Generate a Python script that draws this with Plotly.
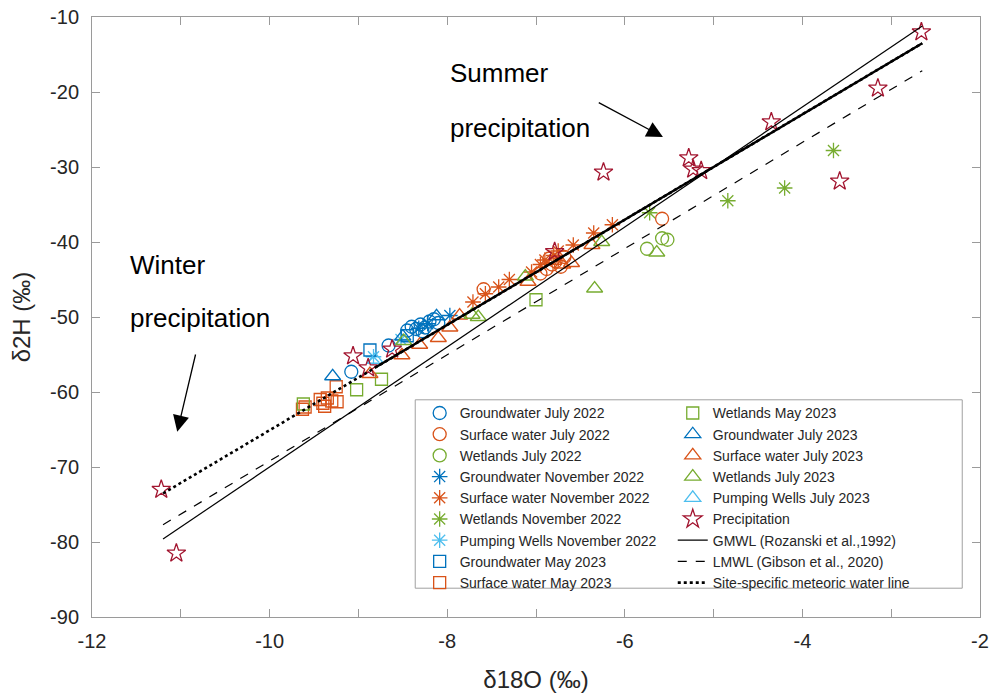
import plotly.graph_objects as go

# ---------------- data ----------------
gw_jul22_x = [-9.08, -8.66, -8.45, -8.40, -8.35, -8.30, -8.25, -8.20, -8.15, -8.10, -8.28]
gw_jul22_y = [-57.3, -53.8, -51.8, -51.3, -51.6, -51.0, -51.4, -50.6, -50.3, -50.8, -51.9]

sw_jul22_x = [-7.59, -6.95, -6.88, -6.82, -6.78, -6.72, -6.85, -6.68, -5.58]
sw_jul22_y = [-46.3, -44.2, -43.6, -43.0, -42.6, -43.3, -42.2, -42.0, -36.9]

wl_jul22_x = [-5.75, -5.58, -5.52]
wl_jul22_y = [-40.9, -39.5, -39.7]

gw_nov22_x = [-7.97, -8.32, -8.22]
gw_nov22_y = [-49.8, -51.5, -50.9]

sw_nov22_x = [-7.71, -7.57, -7.42, -7.30, -7.05, -6.95, -6.90, -6.80, -6.75, -6.58, -6.35, -6.14]
sw_nov22_y = [-48.0, -46.9, -46.0, -45.0, -44.0, -43.0, -42.4, -41.8, -41.2, -40.4, -38.8, -37.7]

wl_nov22_x = [-5.72, -4.84, -4.20, -3.65]
wl_nov22_y = [-36.1, -34.5, -32.8, -27.8]

pw_nov22_x = [-8.83, -8.52]
pw_nov22_y = [-55.3, -53.0]

gw_may23_x = [-8.87, -8.45]
gw_may23_y = [-54.4, -52.5]

sw_may23_x = [-9.63, -9.60, -9.43, -9.40, -9.38, -9.35, -9.30, -9.25, -9.24]
sw_may23_y = [-62.3, -62.0, -61.0, -61.5, -61.9, -60.8, -61.2, -59.3, -61.3]

wl_may23_x = [-9.62, -9.02, -8.74, -7.00]
wl_may23_y = [-61.6, -59.7, -58.3, -47.7]

gw_jul23_x = [-9.29, -8.50, -8.12]
gw_jul23_y = [-57.9, -52.6, -49.9]

sw_jul23_x = [-8.87, -8.51, -8.31, -8.10, -7.97, -7.86, -7.09, -6.80, -6.70, -6.60, -6.37]
sw_jul23_y = [-57.6, -55.1, -53.7, -52.8, -51.4, -49.8, -45.3, -42.5, -43.0, -42.8, -40.4]

wl_jul23_x = [-8.49, -7.72, -7.65, -7.12, -6.34, -6.26, -5.64]
wl_jul23_y = [-53.2, -49.7, -50.0, -44.6, -46.2, -40.0, -41.4]

pw_jul23_x = [-8.81]
pw_jul23_y = [-55.7]

prec_x = [-11.22, -11.05, -9.06, -8.89, -8.62, -6.79, -6.24, -5.28, -5.23, -5.14, -4.35, -3.58, -3.15, -2.66]
prec_y = [-73.0, -81.5, -55.2, -56.8, -54.3, -41.3, -30.7, -28.8, -30.3, -30.5, -24.0, -31.9, -19.5, -12.0]

line_x = [-11.2, -2.65]
regr_x = [-8.8, -2.65]
gmwl_coef = [8.0, 10.0]      # slope, intercept
lmwl_coef = [7.08, 1.6]
ssmwl_coef = [7.02, 5.1]

x_tickvals = [-12, -10, -8, -6, -4, -2]
x_ticktext = ["-12", "-10", "-8", "-6", "-4", "-2"]
y_tickvals = [-90, -80, -70, -60, -50, -40, -30, -20, -10]
y_ticktext = ["-90", "-80", "-70", "-60", "-50", "-40", "-30", "-20", "-10"]

# ---------------- styling ----------------
BLUE = "#0072BD"
ORANGE = "#D95319"
GREEN = "#77AC30"
LBLUE = "#4DBEEE"
RED = "#A2142F"

fig = go.Figure()

def add_pts(x, y, name, color, symbol, size, legend):
    fig.add_trace(go.Scatter(
        x=x, y=y, mode="markers", name=name, legend=legend,
        marker=dict(symbol=symbol, size=size, color=color,
                    line=dict(color=color, width=1.3)),
    ))

add_pts(gw_jul22_x, gw_jul22_y, "Groundwater July 2022", BLUE, "circle-open", 13, "legend")
add_pts(sw_jul22_x, sw_jul22_y, "Surface water July 2022", ORANGE, "circle-open", 13, "legend")
add_pts(wl_jul22_x, wl_jul22_y, "Wetlands July 2022", GREEN, "circle-open", 13, "legend")
add_pts(gw_nov22_x, gw_nov22_y, "Groundwater November 2022", BLUE, "asterisk-open", 13, "legend")
add_pts(sw_nov22_x, sw_nov22_y, "Surface water November 2022", ORANGE, "asterisk-open", 13, "legend")
add_pts(wl_nov22_x, wl_nov22_y, "Wetlands November 2022", GREEN, "asterisk-open", 13, "legend")
add_pts(pw_nov22_x, pw_nov22_y, "Pumping Wells November 2022", LBLUE, "asterisk-open", 13, "legend")
add_pts(gw_may23_x, gw_may23_y, "Groundwater May 2023", BLUE, "square-open", 12, "legend")
add_pts(sw_may23_x, sw_may23_y, "Surface water May 2023", ORANGE, "square-open", 12, "legend")

add_pts(wl_may23_x, wl_may23_y, "Wetlands May 2023", GREEN, "square-open", 12, "legend2")
add_pts(gw_jul23_x, gw_jul23_y, "Groundwater July 2023", BLUE, "triangle-up-open", 14, "legend2")
add_pts(sw_jul23_x, sw_jul23_y, "Surface water July 2023", ORANGE, "triangle-up-open", 14, "legend2")
add_pts(wl_jul23_x, wl_jul23_y, "Wetlands July 2023", GREEN, "triangle-up-open", 14, "legend2")
add_pts(pw_jul23_x, pw_jul23_y, "Pumping Wells July 2023", LBLUE, "triangle-up-open", 14, "legend2")
add_pts(prec_x, prec_y, "Precipitation", RED, "star-open", 14, "legend2")

def line_y(xs, coef):
    return [coef[0] * v + coef[1] for v in xs]

fig.add_trace(go.Scatter(x=line_x, y=line_y(line_x, gmwl_coef), mode="lines",
                         name="GMWL (Rozanski et al.,1992)", legend="legend2",
                         line=dict(color="black", width=1.2)))
fig.add_trace(go.Scatter(x=line_x, y=line_y(line_x, lmwl_coef), mode="lines",
                         name="LMWL (Gibson et al., 2020)", legend="legend2",
                         line=dict(color="black", width=1.2, dash="dash")))
fig.add_trace(go.Scatter(x=line_x, y=line_y(line_x, ssmwl_coef), mode="lines",
                         name="Site-specific meteoric water line", legend="legend2",
                         line=dict(color="black", width=2.6, dash="dot")))
fig.add_trace(go.Scatter(x=regr_x, y=line_y(regr_x, ssmwl_coef), mode="lines",
                         showlegend=False,
                         line=dict(color="black", width=2.4)))

FONT = "Liberation Sans, Arial, sans-serif"
AXC = "#9a9a9a"

fig.update_layout(
    width=993, height=700,
    margin=dict(l=92, r=13, t=17, b=83),
    paper_bgcolor="white", plot_bgcolor="white",
    font=dict(family=FONT, color="#262626"),
    xaxis=dict(range=[-12, -2], tickvals=x_tickvals, ticktext=x_ticktext,
               ticks="inside", ticklen=8, tickcolor=AXC,
               showline=True, linecolor=AXC, linewidth=1, mirror="ticks",
               showgrid=False, zeroline=False, automargin=False,
               ticklabelstandoff=6,
               minor=dict(dtick=1, ticks="inside", ticklen=8, tickcolor=AXC),
               tickfont=dict(size=20, color="#262626"),
               title=dict(text="δ18O (‰)", font=dict(size=24), standoff=20)),
    yaxis=dict(range=[-90, -10], tickvals=y_tickvals, ticktext=y_ticktext,
               ticks="inside", ticklen=8, tickcolor=AXC,
               showline=True, linecolor=AXC, linewidth=1, mirror="ticks",
               showgrid=False, zeroline=False, automargin=False,
               ticklabelstandoff=8,
               tickfont=dict(size=20, color="#262626"),
               title=dict(text="δ2H (‰)", font=dict(size=24), standoff=12)),
    legend=dict(x=0.369, y=0.366, xanchor="left", yanchor="top",
                bgcolor="rgba(0,0,0,0)", borderwidth=0,
                font=dict(size=14, color="#262626"), tracegroupgap=0,
                itemsizing="trace"),
    legend2=dict(x=0.654, y=0.366, xanchor="left", yanchor="top",
                 bgcolor="rgba(0,0,0,0)", borderwidth=0,
                 font=dict(size=14, color="#262626"), tracegroupgap=0,
                 itemsizing="trace"),
    shapes=[dict(type="rect", xref="paper", yref="paper",
                 x0=0.364, x1=0.98, y0=0.048, y1=0.362,
                 line=dict(color="#a0a0a0", width=1), fillcolor="white",
                 layer="below")],
    showlegend=True,
)

ANN_FONT = dict(family=FONT, size=26, color="black")
fig.add_annotation(x=-7.99, y=-17.5, text="Summer", showarrow=False,
                   xanchor="left", yanchor="middle", font=ANN_FONT)
fig.add_annotation(x=-7.99, y=-24.8, text="precipitation", showarrow=False,
                   xanchor="left", yanchor="middle", font=ANN_FONT)
fig.add_annotation(x=-11.59, y=-43.1, text="Winter", showarrow=False,
                   xanchor="left", yanchor="middle", font=ANN_FONT)
fig.add_annotation(x=-11.59, y=-50.1, text="precipitation", showarrow=False,
                   xanchor="left", yanchor="middle", font=ANN_FONT)

fig.add_annotation(x=-5.57, y=-26.0, ax=-6.31, ay=-21.3, xref="x", yref="y",
                   axref="x", ayref="y", text="", showarrow=True,
                   arrowhead=2, arrowsize=2.5, arrowwidth=1.3, arrowcolor="black")
fig.add_annotation(x=-11.04, y=-65.3, ax=-10.83, ay=-54.8, xref="x", yref="y",
                   axref="x", ayref="y", text="", showarrow=True,
                   arrowhead=2, arrowsize=2.5, arrowwidth=1.3, arrowcolor="black")

fig.write_html("out.html", config={"displayModeBar": False},
               post_script="document.body.style.margin='0';document.body.style.overflow='hidden';")
